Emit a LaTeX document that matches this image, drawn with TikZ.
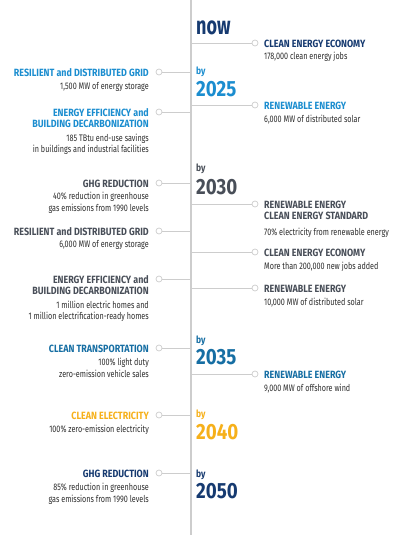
\documentclass[tikz,border=0pt]{standalone}
\usepackage{fontspec}
\usepackage{tikz}
\usetikzlibrary{positioning}
\newfontfamily\headfont[FakeStretch=0.85]{Fira Sans}
\newfontfamily\nowfont[FakeStretch=0.72]{Fira Sans}
\newfontfamily\bodyfont[FakeStretch=0.76]{Fira Sans}
\definecolor{navy}{RGB}{22,58,112}
\definecolor{sky}{RGB}{27,141,207}
\definecolor{slate}{RGB}{72,78,88}
\definecolor{teal}{RGB}{22,110,163}
\definecolor{amber}{RGB}{246,176,26}
\definecolor{ink}{RGB}{45,45,45}
\definecolor{rule}{RGB}{205,205,205}

\begin{document}
\begin{tikzpicture}[x=1pt, y=-1pt, every node/.style={inner sep=0pt}]
\tikzset{hd/.style={font=\headfont\bfseries\fontsize{10.5}{11}\selectfont}}
\tikzset{txt/.style={font=\bodyfont\fontsize{9.5}{11.5}\selectfont, text=ink}}
\tikzset{dot/.style={draw=rule, fill=white, circle, minimum size=6pt, line width=0.7pt}}
\tikzset{link/.style={draw=rule, line width=0.8pt}}
\tikzset{by/.style={font=\headfont\bfseries\fontsize{10}{10}\selectfont, anchor=base west}}
\tikzset{yr/.style={font=\headfont\bfseries\fontsize{22}{22}\selectfont, anchor=base west}}

\useasboundingbox (0,0) rectangle (409,537);

% Timeline
\coordinate (top) at (191,0);
\coordinate (bot) at (191,535);
\draw[rule, line width=1.6pt] (top) -- (bot);

% Years
\node[yr, text=navy, font=\nowfont\bfseries\fontsize{25}{25}\selectfont] (now) at (196,35) {now};
\node[by, text=sky] (by25) at (196,75) {by};
\node[yr, text=sky] (y25) at (196,97) {2025};
\node[by, text=slate] (by30) at (196,172) {by};
\node[yr, text=slate] (y30) at (196,194) {2030};
\node[by, text=teal] (by35) at (196,343) {by};
\node[yr, text=teal] (y35) at (196,364) {2035};
\node[by, text=amber] (by40) at (196,417) {by};
\node[yr, text=amber] (y40) at (196,439) {2040};
\node[by, text=navy] (by50) at (196,477) {by};
\node[yr, text=navy] (y50) at (196,498) {2050};

% Right: milestones
\coordinate (ra1) at (191,43);
\node[dot] (rd1) at (255,43) {};
\draw[link] (ra1) -- (rd1);
\node[hd, text=navy, anchor=north west] (rh1) at (264,39.5) {CLEAN ENERGY ECONOMY};
\node[txt, below=4.5pt of rh1.south west, anchor=north west] (rt1) {178,000 clean energy jobs};

\coordinate (ra2) at (191,105);
\node[dot] (rd2) at (255,105) {};
\draw[link] (ra2) -- (rd2);
\node[hd, text=sky, anchor=north west] (rh2) at (264,101.5) {RENEWABLE ENERGY};
\node[txt, below=5pt of rh2.south west, anchor=north west] (rt2) {6,000 MW of distributed solar};

\coordinate (ra3) at (191,204);
\node[dot] (rd3) at (255,204) {};
\draw[link] (ra3) -- (rd3);
\node[hd, text=slate, anchor=north west, align=left] (rh3) at (264,200.5) {RENEWABLE ENERGY\\CLEAN ENERGY STANDARD};
\node[txt, below=8.5pt of rh3.south west, anchor=north west] (rt3) {70\% electricity from renewable energy};

\coordinate (ra4) at (191,252);
\node[dot] (rd4) at (255,252) {};
\draw[link] (ra4) -- (rd4);
\node[hd, text=slate, anchor=north west] (rh4) at (264,248.5) {CLEAN ENERGY ECONOMY};
\node[txt, below=5.5pt of rh4.south west, anchor=north west] (rt4) {More than 200,000 new jobs added};

\coordinate (ra5) at (191,288);
\node[dot] (rd5) at (255,288) {};
\draw[link] (ra5) -- (rd5);
\node[hd, text=slate, anchor=north west] (rh5) at (264,284.5) {RENEWABLE ENERGY};
\node[txt, below=5pt of rh5.south west, anchor=north west] (rt5) {10,000 MW of distributed solar};

\coordinate (ra6) at (191,374);
\node[dot] (rd6) at (255,374) {};
\draw[link] (ra6) -- (rd6);
\node[hd, text=teal, anchor=north west] (rh6) at (264,370.5) {RENEWABLE ENERGY};
\node[txt, below=5.5pt of rh6.south west, anchor=north west] (rt6) {9,000 MW of offshore wind};

% Left: milestones
\coordinate (la1) at (191,72);
\node[dot] (ld1) at (159,72) {};
\draw[link] (ld1) -- (la1);
\node[hd, text=sky, anchor=north east] (lh1) at (149,68.5) {RESILIENT and DISTRIBUTED GRID};
\node[txt, below=5.5pt of lh1.south east, anchor=north east] (lt1) {1,500 MW of energy storage};

\coordinate (la2) at (191,112);
\node[dot] (ld2) at (159,112) {};
\draw[link] (ld2) -- (la2);
\node[hd, text=sky, anchor=north east, align=right] (lh2) at (149,108.5) {ENERGY EFFICIENCY and\\BUILDING DECARBONIZATION};
\node[txt, below=5.5pt of lh2.south east, anchor=north east, align=right] (lt2) {185 TBtu end-use savings\\in buildings and industrial facilities};

\coordinate (la3) at (191,183);
\node[dot] (ld3) at (159,183) {};
\draw[link] (ld3) -- (la3);
\node[hd, text=slate, anchor=north east] (lh3) at (149,179.5) {GHG REDUCTION};
\node[txt, below=4.5pt of lh3.south east, anchor=north east, align=right] (lt3) {40\% reduction in greenhouse\\gas emissions from 1990 levels};

\coordinate (la4) at (191,231);
\node[dot] (ld4) at (159,231) {};
\draw[link] (ld4) -- (la4);
\node[hd, text=slate, anchor=north east] (lh4) at (149,227.5) {RESILIENT and DISTRIBUTED GRID};
\node[txt, below=4.5pt of lh4.south east, anchor=north east] (lt4) {6,000 MW of energy storage};

\coordinate (la5) at (191,279);
\node[dot] (ld5) at (159,279) {};
\draw[link] (ld5) -- (la5);
\node[hd, text=slate, anchor=north east, align=right] (lh5) at (149,275.5) {ENERGY EFFICIENCY and\\BUILDING DECARBONIZATION};
\node[txt, below=5.5pt of lh5.south east, anchor=north east, align=right] (lt5) {1 million electric homes and\\1 million electrification-ready homes};

\coordinate (la6) at (191,348);
\node[dot] (ld6) at (159,348) {};
\draw[link] (ld6) -- (la6);
\node[hd, text=teal, anchor=north east] (lh6) at (149,344.5) {CLEAN TRANSPORTATION};
\node[txt, below=5.5pt of lh6.south east, anchor=north east, align=right] (lt6) {100\% light duty\\zero-emission vehicle sales};

\coordinate (la7) at (191,415);
\node[dot] (ld7) at (159,415) {};
\draw[link] (ld7) -- (la7);
\node[hd, text=amber, anchor=north east] (lh7) at (149,411.5) {CLEAN ELECTRICITY};
\node[txt, below=5pt of lh7.south east, anchor=north east] (lt7) {100\% zero-emission electricity};

\coordinate (la8) at (191,473);
\node[dot] (ld8) at (159,473) {};
\draw[link] (ld8) -- (la8);
\node[hd, text=navy, anchor=north east] (lh8) at (149,469.5) {GHG REDUCTION};
\node[txt, below=5.5pt of lh8.south east, anchor=north east, align=right] (lt8) {85\% reduction in greenhouse\\gas emissions from 1990 levels};
\end{tikzpicture}
\end{document}
